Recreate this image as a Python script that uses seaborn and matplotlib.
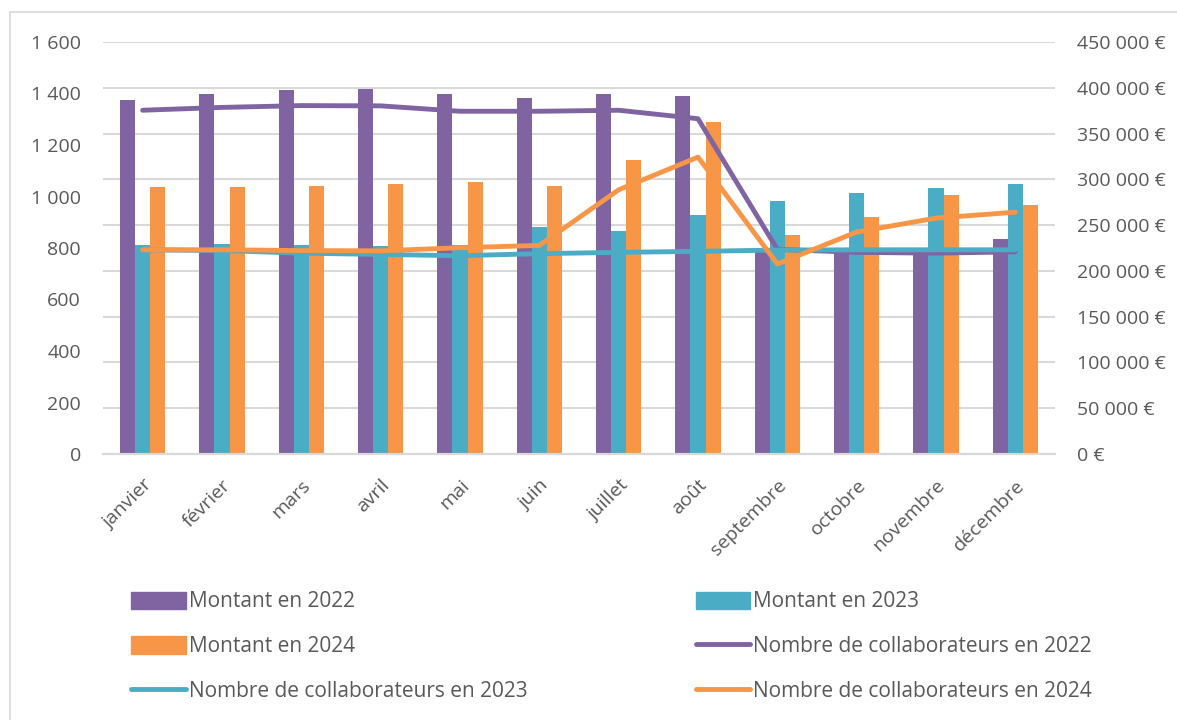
import numpy as np
import pandas as pd
import seaborn as sns
import matplotlib.pyplot as plt
from matplotlib.lines import Line2D
from matplotlib.patches import Patch
from matplotlib.ticker import FuncFormatter, MultipleLocator

# ---------------------------------------------------------------------------
# Données
# ---------------------------------------------------------------------------
mois = ["janvier", "février", "mars", "avril", "mai", "juin", "juillet",
        "août", "septembre", "octobre", "novembre", "décembre"]
annees = ["2022", "2023", "2024"]

montant_2022 = [387000, 393500, 397100, 398500, 392900, 388700, 392900,
                390900, 220800, 220800, 219400, 235100]
montant_2023 = [228400, 229200, 228100, 226700, 227800, 247800, 244100,
                261300, 275900, 284600, 290000, 294500]
montant_2024 = [291900, 291100, 292500, 295000, 296700, 292200, 320600,
                362500, 239600, 258800, 283200, 272500]

collab_2022 = [1335, 1346, 1353, 1352, 1331, 1331, 1335, 1302, 795, 783, 780, 785]
collab_2023 = [793, 790, 780, 775, 770, 778, 783, 787, 792, 793, 793, 793]
collab_2024 = [793, 793, 790, 789, 801, 810, 1026, 1153, 738, 862, 916, 939]

couleurs = {"2022": "#8064A2", "2023": "#4BACC6", "2024": "#F79646"}
gris_texte = "#595959"
gris_ligne = "#D9D9D9"

# tables longues pour seaborn
df_montant = pd.DataFrame({
    "mois": mois * 3,
    "annee": np.repeat(annees, len(mois)),
    "montant": montant_2022 + montant_2023 + montant_2024,
})
df_collab = pd.DataFrame({
    "pos": list(range(len(mois))) * 3,
    "annee": np.repeat(annees, len(mois)),
    "nb": collab_2022 + collab_2023 + collab_2024,
})

# ---------------------------------------------------------------------------
# Figure
# ---------------------------------------------------------------------------
sns.set_theme(style="white")
plt.rcParams["font.family"] = ["Open Sans", "DejaVu Sans"]

fig = plt.figure(figsize=(11.77, 7.2), dpi=100)
ax = fig.add_axes([103 / 1177, 1 - 454 / 720, (1055 - 103) / 1177, (454 - 42) / 720])

# barres (montants, axe de droite)
sns.barplot(data=df_montant, x="mois", y="montant", hue="annee",
            palette=couleurs, width=0.57, saturation=1, ax=ax, legend=False,
            linewidth=0)
ax.set_xlabel("")
ax.set_ylabel("")

# lignes (collaborateurs, axe de gauche)
ax2 = ax.twinx()
sns.lineplot(data=df_collab, x="pos", y="nb", hue="annee", palette=couleurs,
             linewidth=3.5, solid_capstyle="round", sort=False, ax=ax2,
             legend=False)
ax2.set_xlabel("")
ax2.set_ylabel("")

ax.set_ylim(0, 450000)
ax.yaxis.set_major_locator(MultipleLocator(50000))
ax.yaxis.set_major_formatter(FuncFormatter(
    lambda v, p: f"{int(v):,}".replace(",", " ") + " €"))
ax.grid(axis="y", color=gris_ligne, linewidth=1.5)
ax.set_axisbelow(True)
ax.set_xlim(-0.5, len(mois) - 0.5)

ax2.set_ylim(0, 1600)
ax2.yaxis.set_major_locator(MultipleLocator(200))
ax2.yaxis.set_major_formatter(FuncFormatter(
    lambda v, p: f"{int(v):,}".replace(",", " ")))

# axe des montants à droite, collaborateurs à gauche
ax.yaxis.tick_right()
ax.yaxis.set_label_position("right")
ax2.yaxis.tick_left()
ax2.yaxis.set_label_position("left")

for a in (ax, ax2):
    for s in ["top", "left", "right"]:
        a.spines[s].set_visible(False)
    a.spines["bottom"].set_color(gris_ligne)
    a.spines["bottom"].set_linewidth(1.5)
    a.tick_params(axis="both", length=0, labelsize=14, colors=gris_texte)

ax.tick_params(axis="y", pad=16)
ax2.tick_params(axis="y", pad=16)
ax.set_xticks(range(len(mois)))
ax.set_xticklabels(mois, rotation=45, ha="right", rotation_mode="anchor",
                   fontsize=14, color=gris_texte)
ax.tick_params(axis="x", pad=16)

# légende en deux colonnes
h = {
    "m22": Patch(color=couleurs["2022"], label="Montant en 2022"),
    "m23": Patch(color=couleurs["2023"], label="Montant en 2023"),
    "m24": Patch(color=couleurs["2024"], label="Montant en 2024"),
    "c22": Line2D([], [], color=couleurs["2022"], lw=3.5, solid_capstyle="round",
                  label="Nombre de collaborateurs en 2022"),
    "c23": Line2D([], [], color=couleurs["2023"], lw=3.5, solid_capstyle="round",
                  label="Nombre de collaborateurs en 2023"),
    "c24": Line2D([], [], color=couleurs["2024"], lw=3.5, solid_capstyle="round",
                  label="Nombre de collaborateurs en 2024"),
}
ordre = ["m22", "m24", "c23", "m23", "c22", "c24"]
leg = fig.legend([h[k] for k in ordre], [h[k].get_label() for k in ordre],
                 ncol=2, loc="upper left", bbox_to_anchor=(123 / 1177, 1 - 583 / 720),
                 frameon=False, fontsize=15, handlelength=2.6, handleheight=0.9,
                 handletextpad=0.15, columnspacing=8.1, labelspacing=1.14,
                 borderaxespad=0)
for t in leg.get_texts():
    t.set_color(gris_texte)

# cadre du graphique
fig.add_artist(Line2D([10 / 1177, 1], [1 - 12 / 720, 1 - 12 / 720],
                      color=gris_ligne, lw=1.2, transform=fig.transFigure))
fig.add_artist(Line2D([10 / 1177, 10 / 1177], [0, 1 - 12 / 720],
                      color=gris_ligne, lw=1.2, transform=fig.transFigure))

fig.savefig("out.png", dpi=100)
